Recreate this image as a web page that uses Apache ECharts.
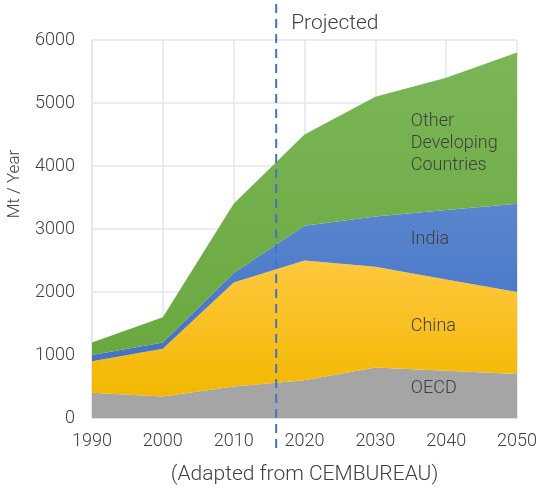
<!DOCTYPE html>
<html>
<head>
<meta charset="utf-8">
<script src="https://cdn.jsdelivr.net/npm/echarts@6/dist/echarts.min.js"></script>
<style>html,body{margin:0;padding:0;background:#fff;}#c{width:540px;height:490px;}</style>
</head>
<body>
<div id="c"></div>
<script>
var years = ['1990', '2000', '2010', '2020', '2030', '2040', '2050'];
var oecd = [400, 340, 500, 600, 800, 750, 700];
var china = [500, 760, 1650, 1900, 1600, 1450, 1300];
var india = [100, 100, 150, 550, 800, 1100, 1400];
var other = [200, 400, 1100, 1450, 1900, 2100, 2400];
var projectedYear = 2016;
var seriesNames = ['OECD', 'China', 'India', 'Other\nDeveloping\nCountries'];
var labelPos = [[2035, 476], [2035, 1460], [2035, 2840], [2035, 4350]];

var FONT = 'Roboto';
var TXT = '#404040';

function grad(top, bottom) {
  return new echarts.graphic.LinearGradient(0, 0, 0, 1, [{offset: 0, color: top}, {offset: 1, color: bottom}]);
}
var fills = [
  '#a5a5a5',
  grad('#ffc83f', '#f2b800'),
  grad('#5a86cf', '#4472c4'),
  grad('#7bb657', '#6aa83f')
];
var datas = [oecd, china, india, other];

var chart = echarts.init(document.getElementById('c'));
var option = {
  animation: false,
  grid: {left: 92, right: 21, top: 40, bottom: 72},
  xAxis: {
    type: 'category', data: years, boundaryGap: false,
    name: '(Adapted from CEMBUREAU)', nameLocation: 'middle', nameGap: 46,
    nameTextStyle: {fontFamily: FONT, fontSize: 21, color: TXT, fontWeight: 300},
    axisLine: {show: true, lineStyle: {color: '#dde1e6', width: 2}},
    axisTick: {show: false},
    splitLine: {show: true, lineStyle: {color: '#e3e6eb', width: 1.5}},
    axisLabel: {fontFamily: FONT, fontSize: 18, color: TXT, margin: 14, fontWeight: 300}
  },
  yAxis: {
    type: 'value', min: 0, max: 6000, interval: 1000,
    axisLine: {show: true, lineStyle: {color: '#e3e6eb', width: 1.5}},
    axisTick: {show: false},
    splitLine: {show: true, lineStyle: {color: '#e3e6eb', width: 1.5}},
    axisLabel: {fontFamily: FONT, fontSize: 18, color: TXT, margin: 17, fontWeight: 300,
      formatter: function (v) { return String(v); }}
  },
  series: datas.map(function (d, i) {
    return {
      name: seriesNames[i], type: 'line', stack: 'total', data: d,
      symbol: 'none', lineStyle: {width: 0}, areaStyle: {color: fills[i], opacity: 1},
      z: 2
    };
  })
};
chart.setOption(option);

var y0 = Number(years[0]), y1 = Number(years[years.length - 1]);
var pA = chart.convertToPixel({gridIndex: 0}, [0, 0]);
var pB = chart.convertToPixel({gridIndex: 0}, [years.length - 1, 0]);
function xPix(yr) { return pA[0] + (yr - y0) / (y1 - y0) * (pB[0] - pA[0]); }
function yPix(v) { return chart.convertToPixel({yAxisIndex: 0}, v); }

var xp = xPix(projectedYear);
var gElems = [
  {type: 'line', shape: {x1: xp, y1: 4, x2: xp, y2: 450},
   style: {stroke: '#4472c4', lineWidth: 2, lineDash: [9, 6]}, z: 10},
  {type: 'text', x: xp + 15, y: 24,
   style: {text: 'Projected', font: '300 21px Roboto', fill: TXT, textVerticalAlign: 'middle'}, z: 10},
  {type: 'text', x: 15, y: 184, rotation: Math.PI / 2,
   style: {text: 'Mt / Year', font: '300 17px Roboto', fill: TXT, textAlign: 'center', textVerticalAlign: 'middle'}, z: 10}
];
labelPos.forEach(function (p, i) {
  gElems.push({type: 'text', x: xPix(p[0]), y: yPix(p[1]),
    style: {text: seriesNames[i], font: '300 18px Roboto', fill: TXT, textVerticalAlign: 'middle', lineHeight: 22}, z: 10});
});
chart.setOption({graphic: gElems});
</script>
</body>
</html>
